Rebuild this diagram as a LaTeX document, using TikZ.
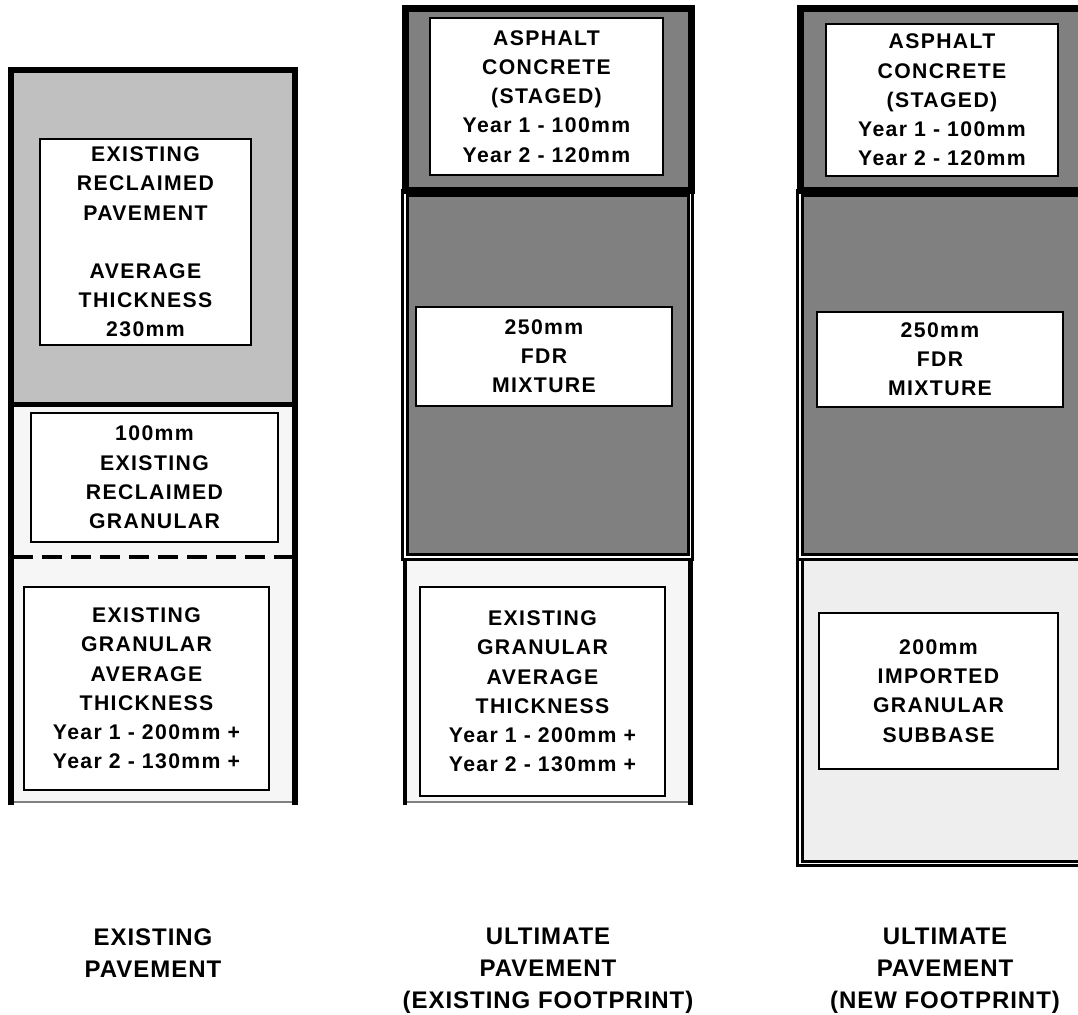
\documentclass[tikz,border=0pt]{standalone}
\usepackage{fontspec}
\setmainfont{Liberation Sans}
\newfontfamily\boxfont{Liberation Sans}[LetterSpace=6.5]
\newfontfamily\capfont{Liberation Sans}[LetterSpace=4]
\usepackage{xcolor}
\usepackage{tikz}
\usetikzlibrary{positioning}

\definecolor{basegray}{HTML}{C0C0C0}
\definecolor{acgray}{HTML}{808080}
\definecolor{granfill}{HTML}{F6F6F6}
\definecolor{subfill}{HTML}{EEEEEE}

\begin{document}
\begin{tikzpicture}[x=0.5pt, y=-0.5pt,
  lbox/.style={draw, fill=white, line width=0.75pt, inner sep=0pt, align=center,
               font=\boxfont\bfseries\fontsize{10.6}{14.6}\selectfont},
  boxsize/.style n args={2}{minimum width=#1, text width=#1, minimum height=#2},
  caption/.style={anchor=north, inner sep=0pt, align=center,
                  font=\capfont\bfseries\fontsize{12}{16}\selectfont},
  heavy/.style={line width=3.5pt},
  edge/.style={line width=2.5pt},
  dbl/.style={line width=1.5pt, double=white, double distance=0.75pt}]

  \useasboundingbox (0,0) rectangle (1078,1015);
  \clip (0,0) rectangle (1078,1015);

  % existing pavement
  \fill[basegray] (11,70) rectangle (294.5,405);
  \fill[granfill] (11,405) rectangle (294.5,802);
  \draw[gray, line width=1pt] (13,802) -- (292,802);
  \draw[line width=2pt, dash pattern=on 10pt off 4.5pt] (13,557) -- (292,557);
  \draw[edge] (11,405) -- (294.5,405);
  \draw[edge, line width=3pt] (11,805) -- (11,70) -- (294.5,70) -- (294.5,805);
  \draw[edge, line width=2pt] (11,70) -- (11,805);

  % ultimate pavement, existing footprint
  \fill[acgray] (405,9) rectangle (691,557);
  \fill[granfill] (405,560) rectangle (690.5,802);
  \draw[dbl] (405,193) rectangle (690.5,557);
  \draw[heavy] (405,9) rectangle (691,191);
  \draw[gray, line width=1pt] (407,802) -- (688,802);
  \draw[line width=2pt] (405,560) -- (405,805);
  \draw[edge] (690.5,560) -- (690.5,805);

  % ultimate pavement, new footprint
  \fill[acgray] (800,9) rectangle (1100,557);
  \fill[subfill] (800,557) rectangle (1100,863.5);
  \draw[dbl] (800,557) rectangle (1100,863.5);
  \draw[dbl] (800,193) rectangle (1100,557);
  \draw[heavy] (800,9) rectangle (1100,191);

  % layer labels
  \node[lbox, boxsize={105.5pt}{103pt}] (recpave) at (145.5,242)
    {EXISTING\\RECLAIMED\\PAVEMENT\\~\\AVERAGE\\THICKNESS\\230mm};
  \node[lbox, boxsize={123.5pt}{64.5pt}] (recgran) at (154.5,477.5)
    {100mm\\EXISTING\\RECLAIMED\\GRANULAR};
  \node[lbox, boxsize={122.5pt}{101.5pt}] (exgran) at (146.5,688.5)
    {EXISTING\\GRANULAR\\AVERAGE\\THICKNESS\\Year 1 - 200mm +\\Year 2 - 130mm +};

  \node[lbox, boxsize={116.5pt}{78.5pt}] (acmid) at (546.5,96.5)
    {ASPHALT\\CONCRETE\\(STAGED)\\Year 1 - 100mm\\Year 2 - 120mm};
  \node[lbox, boxsize={128pt}{49.5pt}] (fdrmid) at (544,356.5)
    {250mm\\FDR\\MIXTURE};
  \node[lbox, boxsize={122.5pt}{104.5pt}] (granmid) at (542.5,691.5)
    {EXISTING\\GRANULAR\\AVERAGE\\THICKNESS\\Year 1 - 200mm +\\Year 2 - 130mm +};

  \node[lbox, boxsize={116pt}{76pt}] (acnew) at (942,100)
    {ASPHALT\\CONCRETE\\(STAGED)\\Year 1 - 100mm\\Year 2 - 120mm};
  \node[lbox, boxsize={123pt}{47.5pt}] (fdrnew) at (940,359.5)
    {250mm\\FDR\\MIXTURE};
  \node[lbox, boxsize={119.5pt}{78pt}] (subnew) at (938.5,691)
    {200mm\\IMPORTED\\GRANULAR\\SUBBASE};

  % column titles
  \node[caption] (capexist) at (153,928) {EXISTING\\PAVEMENT};
  \node[caption] (capmid) at (548,928) {ULTIMATE\\PAVEMENT\\(EXISTING FOOTPRINT)};
  \node[caption] (capnew) at (945,928) {ULTIMATE\\PAVEMENT\\(NEW FOOTPRINT)};
\end{tikzpicture}
\end{document}
